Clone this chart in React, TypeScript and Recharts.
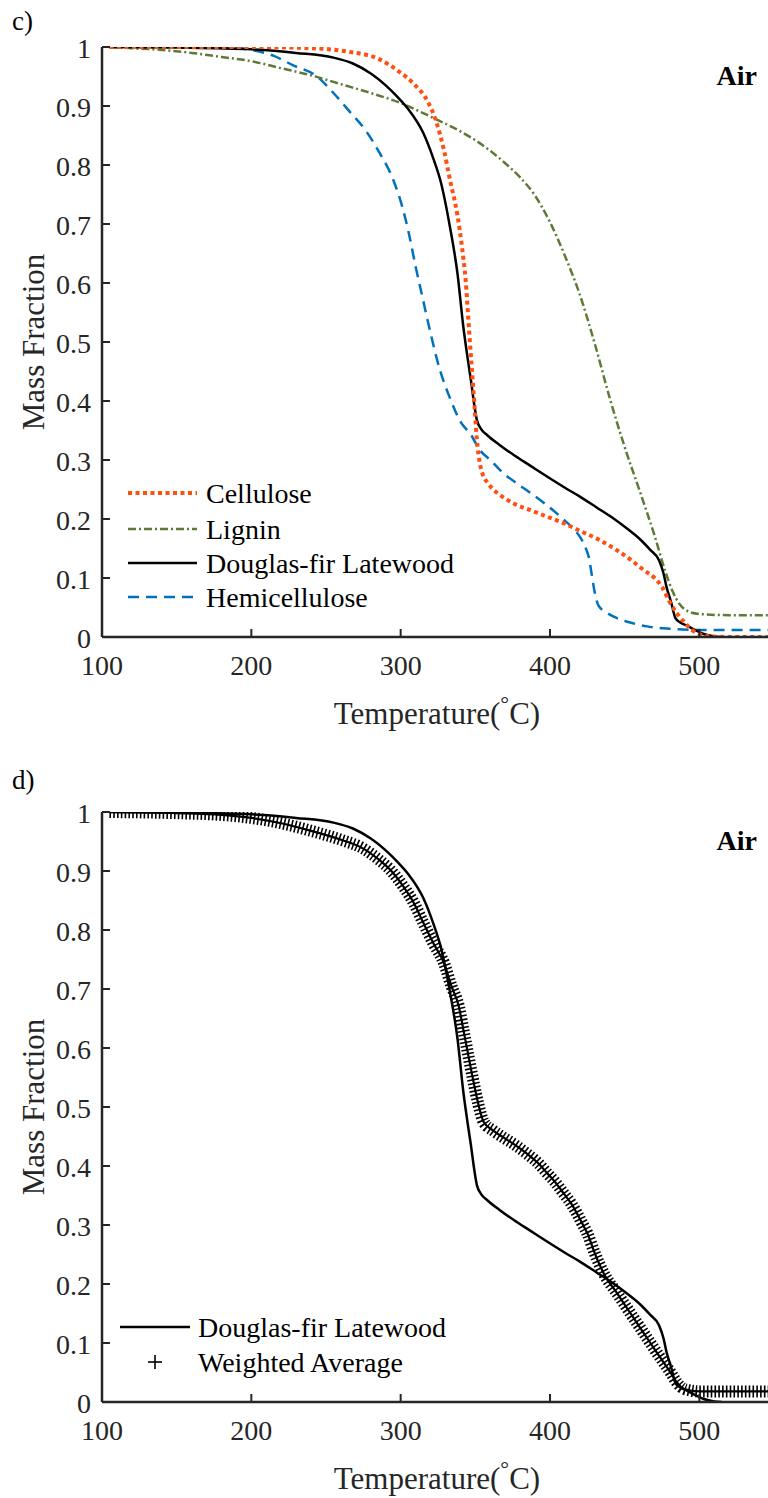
import React from 'react';
import { LineChart, Line, XAxis, YAxis } from 'recharts';

type Pt = [number, number];

// ---------- data (temperature °C, mass fraction) ----------
const xTicks = [100, 200, 300, 400, 500];
const yTicks = [0, 0.1, 0.2, 0.3, 0.4, 0.5, 0.6, 0.7, 0.8, 0.9, 1];
const xDomain: [number, number] = [100, 550];
const yDomain: [number, number] = [0, 1];

const cellulose: Pt[] = [
  [105, 1.0], [150, 1.0], [200, 1.0], [240, 0.998], [265, 0.992], [285, 0.98], [298, 0.96],
  [309, 0.937], [318, 0.908], [324, 0.872], [329, 0.825], [333, 0.775], [338, 0.715],
  [341, 0.662], [343.5, 0.605], [345.5, 0.532], [347.5, 0.46], [349.5, 0.39], [351, 0.335],
  [353, 0.295], [355, 0.275], [358, 0.262], [362, 0.25], [368, 0.238], [376, 0.226],
  [387, 0.215], [398, 0.204], [410, 0.192], [420, 0.18], [432, 0.166], [443, 0.15],
  [453, 0.133], [463, 0.113], [470, 0.1], [475, 0.085], [480, 0.06], [485, 0.04],
  [490, 0.025], [495, 0.012], [500, 0.005], [508, 0.001], [520, 0], [550, 0],
];

const lignin: Pt[] = [
  [105, 1.0], [120, 0.998], [140, 0.995], [160, 0.99], [180, 0.983], [200, 0.976],
  [220, 0.964], [240, 0.952], [260, 0.937], [280, 0.922], [300, 0.905], [320, 0.882],
  [340, 0.857], [350, 0.842], [360, 0.824], [370, 0.803], [380, 0.779], [390, 0.748],
  [400, 0.703], [410, 0.646], [420, 0.58], [430, 0.497], [440, 0.405], [450, 0.322],
  [460, 0.248], [470, 0.172], [477, 0.113], [482, 0.078], [487, 0.055], [493, 0.043],
  [500, 0.039], [520, 0.037], [550, 0.037],
];

const douglasFir: Pt[] = [
  [105, 1.0], [150, 0.999], [200, 0.996], [230, 0.99], [255, 0.982], [268, 0.972],
  [280, 0.955], [290, 0.935], [298, 0.915], [305, 0.895], [315, 0.855], [322, 0.81],
  [327, 0.77], [333, 0.695], [338, 0.617], [342, 0.525], [345, 0.47], [347, 0.436],
  [349.5, 0.39], [351, 0.368], [354, 0.352], [358, 0.342], [366, 0.326], [376, 0.308],
  [387, 0.29], [398, 0.272], [410, 0.253], [420, 0.238], [431, 0.22], [443, 0.2],
  [452, 0.183], [461, 0.164], [467, 0.148], [473, 0.13], [476, 0.108], [478, 0.085],
  [481, 0.06], [484, 0.032], [487, 0.025], [492, 0.019], [497, 0.012], [503, 0.005],
  [510, 0.001], [515, 0],
];

const hemicellulose: Pt[] = [
  [105, 1.0], [150, 1.0], [190, 0.998], [200, 0.995], [215, 0.985], [228, 0.969],
  [244, 0.95], [255, 0.922], [266, 0.89], [277, 0.857], [286, 0.82], [295, 0.775],
  [301, 0.73], [305.5, 0.684], [310, 0.628], [314.5, 0.577], [320, 0.515], [326, 0.455],
  [333, 0.405], [340, 0.365], [347, 0.343], [353, 0.317], [360, 0.3], [369, 0.277],
  [378, 0.26], [387, 0.244], [397, 0.225], [407, 0.204], [415, 0.185], [420, 0.17],
  [424, 0.15], [426, 0.135], [428, 0.105], [430, 0.075], [432.5, 0.053], [437, 0.043],
  [443, 0.034], [453, 0.025], [465, 0.018], [480, 0.014], [500, 0.012], [550, 0.012],
];

const weightedAverage: Pt[] = [
  [105, 1.0], [150, 0.998], [180, 0.995], [200, 0.99], [220, 0.981], [240, 0.968],
  [260, 0.953], [275, 0.938], [285, 0.92], [293, 0.902], [302, 0.873], [309, 0.845],
  [315, 0.813], [322, 0.777], [329, 0.744], [334, 0.705], [339, 0.67], [342, 0.631],
  [345.5, 0.585], [349, 0.54], [352, 0.505], [355.5, 0.475], [362, 0.46], [369, 0.448],
  [377, 0.435], [385, 0.42], [392, 0.405], [398, 0.388], [404, 0.371], [409, 0.354],
  [414, 0.337], [418, 0.32], [421.5, 0.303], [425, 0.286], [430, 0.252], [436, 0.218],
  [445, 0.184], [454, 0.15], [463, 0.116], [472, 0.082], [481, 0.049], [485, 0.033],
  [488, 0.025], [493, 0.02], [500, 0.018], [550, 0.018],
];

const legendC = ['Cellulose', 'Lignin', 'Douglas-fir Latewood', 'Hemicellulose'];
const legendD = ['Douglas-fir Latewood', 'Weighted Average'];

// ---------- styles ----------
const AXIS = '#262626';
const FONT = "'Liberation Serif', 'Times New Roman', Times, serif";
const C_CELL = '#FF5012';
const C_LIG = '#5E7A36';
const C_HEMI = '#0072BD';
const C_DF = '#000000';

const CH_W = 800;
const CH_H = 765;
const MARGIN = { top: 47, right: 26, bottom: 0, left: 0 };

const rows = (pts: Pt[]) => pts.map(([t, m]) => ({ t, m }));

const fmt = (v: number) => String(v);
const tickText = { fontFamily: FONT, fontSize: 28 };

const BottomTick = (p: any) => (
  <g>
    <line x1={p.x} x2={p.x} y1={p.y} y2={p.y - 8} stroke={AXIS} strokeWidth={2} />
    <text x={p.x} y={p.y + 38} textAnchor="middle" style={tickText} fontFamily={FONT} fontSize={28} fill={AXIS}>
      {fmt(p.payload.value)}
    </text>
  </g>
);
const TopTick = (p: any) => (
  <line x1={p.x} x2={p.x} y1={p.y} y2={p.y + 8} stroke={AXIS} strokeWidth={2} />
);
const LeftTick = (p: any) => (
  <g>
    <line x1={p.x} x2={p.x + 8} y1={p.y} y2={p.y} stroke={AXIS} strokeWidth={2} />
    <text x={p.x - 11} y={p.y + 11} textAnchor="end" style={tickText} fontFamily={FONT} fontSize={28} fill={AXIS}>
      {fmt(p.payload.value)}
    </text>
  </g>
);
const RightTick = (p: any) => (
  <line x1={p.x} x2={p.x - 8} y1={p.y} y2={p.y} stroke={AXIS} strokeWidth={2} />
);

const axisLine = { stroke: AXIS, strokeWidth: 2.5 };

const axesElements = [
  <XAxis
    key="xb"
    xAxisId="b"
    dataKey="t"
    type="number"
    domain={xDomain}
    ticks={xTicks}
    allowDataOverflow
    height={CH_H - MARGIN.top - 590}
    tickSize={0}
    tickMargin={0}
    tickLine={false}
    axisLine={axisLine}
    tick={BottomTick}
    interval={0}
  />,
  <XAxis
    key="xt"
    xAxisId="t"
    orientation="top"
    dataKey="t"
    type="number"
    domain={xDomain}
    ticks={xTicks}
    allowDataOverflow
    height={0}
    tickSize={0}
    tickMargin={0}
    tickLine={false}
    axisLine={axisLine}
    tick={TopTick}
    interval={0}
  />,
  <YAxis
    key="yl"
    yAxisId="l"
    type="number"
    domain={yDomain}
    ticks={yTicks}
    allowDataOverflow
    width={102}
    tickSize={0}
    tickMargin={0}
    tickLine={false}
    axisLine={axisLine}
    tick={LeftTick}
    interval={0}
  />,
  <YAxis
    key="yr"
    yAxisId="r"
    orientation="right"
    type="number"
    domain={yDomain}
    ticks={yTicks}
    allowDataOverflow
    width={0}
    tickSize={0}
    tickMargin={0}
    tickLine={false}
    axisLine={axisLine}
    tick={RightTick}
    interval={0}
  />,
];

const lineCommon = {
  xAxisId: 'b',
  yAxisId: 'l',
  dataKey: 'm',
  type: 'monotone' as const,
  dot: false,
  activeDot: false,
  isAnimationActive: false,
};

function PanelC() {
  return (
    <LineChart width={CH_W} height={CH_H} margin={MARGIN}>
      {axesElements}
      <Line {...lineCommon} name="Hemicellulose" data={rows(hemicellulose)} stroke={C_HEMI} strokeWidth={2.5} strokeDasharray="11 7" />
      <Line {...lineCommon} name="Lignin" data={rows(lignin)} stroke={C_LIG} strokeWidth={2.5} strokeDasharray="8 3 2 3" />
      <Line {...lineCommon} name="Douglas-fir Latewood" data={rows(douglasFir)} stroke={C_DF} strokeWidth={2.5} />
      <Line {...lineCommon} name="Cellulose" data={rows(cellulose)} stroke={C_CELL} strokeWidth={4} strokeDasharray="4 3.5" />
    </LineChart>
  );
}

function PanelD() {
  return (
    <LineChart width={CH_W} height={CH_H} margin={MARGIN}>
      {axesElements}
      <Line {...lineCommon} name="Weighted Average" data={rows(weightedAverage)} stroke="#000" strokeWidth={12} strokeDasharray="1.6 2.2" />
      <Line {...lineCommon} name="Weighted Average core" legendType="none" data={rows(weightedAverage)} stroke="#000" strokeWidth={2.2} />
      <Line {...lineCommon} name="Douglas-fir Latewood" data={rows(douglasFir)} stroke={C_DF} strokeWidth={2.5} />
    </LineChart>
  );
}

function Overlay() {
  const txt = { fontFamily: FONT, fill: '#000' } as const;
  const off = CH_H;
  const cRows = [493, 529, 563, 597];
  const cStyles = [
    { stroke: C_CELL, strokeWidth: 4, strokeDasharray: '4 3.5' },
    { stroke: C_LIG, strokeWidth: 2.5, strokeDasharray: '8 3 2 3' },
    { stroke: C_DF, strokeWidth: 2.5 },
    { stroke: C_HEMI, strokeWidth: 2.5, strokeDasharray: '11 7' },
  ];
  const dRows = [1327, 1362];
  const panelLabelY = [30, 789];
  return (
    <svg width={768} height={1498} style={{ position: 'absolute', left: 0, top: 0, pointerEvents: 'none' }}>
      {[0, off].map((o, i) => (
        <g key={i}>
          <text x={12} y={panelLabelY[i]} fontSize={27} {...txt}>{i === 0 ? 'c)' : 'd)'}</text>
          <text x={757} y={85 + o} fontSize={28} fontWeight="bold" textAnchor="end" {...txt}>Air</text>
          <text x={44} y={342 + o} fontSize={31} textAnchor="middle" transform={`rotate(-90 44 ${342 + o})`} {...txt} fill={AXIS}>
            Mass Fraction
          </text>
          <text x={437} y={724 + o} fontSize={31} textAnchor="middle" {...txt} fill={AXIS}>
            Temperature(<tspan fontSize={22} dy={-13}>°</tspan><tspan dy={13}>C)</tspan>
          </text>
        </g>
      ))}
      {legendC.map((name, i) => (
        <g key={name}>
          <line x1={128} x2={197} y1={cRows[i]} y2={cRows[i]} {...cStyles[i]} />
          <text x={206} y={cRows[i] + 10} fontSize={28} {...txt}>{name}</text>
        </g>
      ))}
      <line x1={120} x2={190} y1={dRows[0]} y2={dRows[0]} stroke={C_DF} strokeWidth={2.5} />
      <text x={198} y={dRows[0] + 10} fontSize={28} {...txt}>{legendD[0]}</text>
      <line x1={148} x2={162} y1={dRows[1]} y2={dRows[1]} stroke="#000" strokeWidth={1.6} />
      <line x1={155} x2={155} y1={dRows[1] - 7} y2={dRows[1] + 7} stroke="#000" strokeWidth={1.6} />
      <text x={198} y={dRows[1] + 10} fontSize={28} {...txt}>{legendD[1]}</text>
    </svg>
  );
}

export default function App() {
  return (
    <div style={{ position: 'absolute', left: 0, top: 0, width: 768, height: 1498, overflow: 'hidden', background: '#fff' }}>
      <div style={{ position: 'absolute', left: 0, top: 0 }}>
        <PanelC />
      </div>
      <div style={{ position: 'absolute', left: 0, top: CH_H }}>
        <PanelD />
      </div>
      <Overlay />
    </div>
  );
}
